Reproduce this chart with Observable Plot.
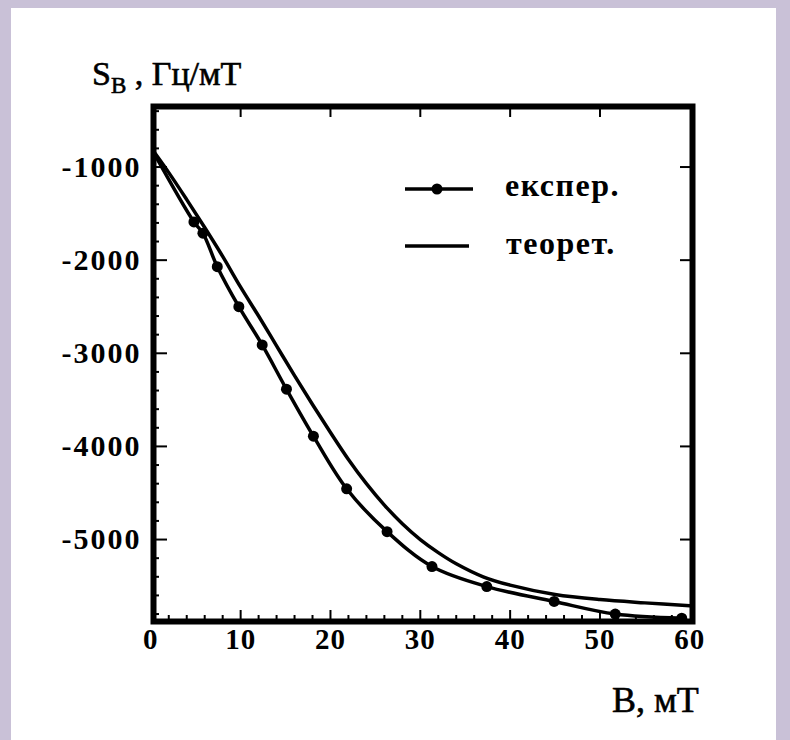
<!DOCTYPE html>
<html><head><meta charset="utf-8">
<script src="https://cdn.jsdelivr.net/npm/d3@7"></script>
<script src="https://cdn.jsdelivr.net/npm/@observablehq/plot@0.6"></script>
<style>
html,body{margin:0;padding:0;}
body{width:790px;height:740px;background:#c9c1d7;position:relative;overflow:hidden;}
#panel{position:absolute;left:11px;top:8px;width:765px;height:732px;background:#fff;}
#chart{position:absolute;left:0;top:0;}
svg text{font-family:"Liberation Serif","Times New Roman",serif;}
g[aria-label="y-axis tick label"] text{letter-spacing:2px;}
g[aria-label="x-axis tick label"] text{letter-spacing:1px;}
</style></head><body><div id="panel"></div><div id="chart"></div>
<script>
// experimental series (dots + line)
const expStartB = 0, expStartS = -790;
const expB = [4.8, 5.8, 7.4, 9.8, 12.4, 15.1, 18.1, 21.8, 26.3, 31.3, 37.4, 44.9, 51.7, 59.1];
const expS = [-1590, -1710, -2070, -2500, -2910, -3385, -3890, -4455, -4915, -5290, -5505, -5665, -5800, -5845];
// theoretical curve
const theoB = [0, 2, 4, 6, 8, 10, 12, 14, 16, 18, 20, 22, 24, 26, 28, 30, 32, 34, 37, 40, 45, 50, 55, 60];
const theoS = [-790, -1060, -1350, -1650, -1960, -2290, -2600, -2920, -3240, -3550, -3850, -4140, -4400, -4630, -4830, -5000, -5140, -5260, -5400, -5490, -5590, -5645, -5680, -5710];
// ticks
const xLabels = [0, 10, 20, 30, 40, 50, 60];
const xMajor = [10, 20, 30, 40, 50];
const xMinor = d3.range(2, 60, 2).filter(v => v % 10 !== 0);
const yLabels = [-1000, -2000, -3000, -4000, -5000];
const yMinor = d3.range(-5800, -300, 200).filter(v => v % 1000 !== 0);

const expData = expB.map((b, i) => ({B: b, S: expS[i]}));
const expLine = [{B: expStartB, S: expStartS}, ...expData];
const theo = theoB.map((b, i) => ({B: b, S: theoS[i]}));

const W = 790, H = 740, mL = 153, mR = 98, mT = 106, mB = 119;
const iw = W - mL - mR, ih = H - mT - mB;
const ff = '"Liberation Serif","Times New Roman",serif';

const plot = Plot.plot({
  width: W, height: H,
  marginLeft: mL, marginRight: mR, marginTop: mT, marginBottom: mB,
  style: {background: "transparent", color: "#000", overflow: "visible", fontFamily: ff},
  x: {domain: [0.3, 60.3]},
  y: {domain: [-5880, -350]},
  marks: [
    Plot.line(theo, {x: "B", y: "S", stroke: "#000", strokeWidth: 3.5, curve: "catmull-rom", clip: true}),
    Plot.line(expLine, {x: "B", y: "S", stroke: "#000", strokeWidth: 3.5, curve: "catmull-rom", clip: true}),
    Plot.dot(expData, {x: "B", y: "S", r: 5.5, fill: "#000", stroke: "none"}),
    Plot.tickY(yLabels, {y: d => d, stroke: "#000", strokeWidth: 2, insetRight: iw - 14}),
    Plot.tickY(yMinor, {y: d => d, stroke: "#000", strokeWidth: 2, insetRight: iw - 6}),
    Plot.tickY(yLabels, {y: d => d, stroke: "#000", strokeWidth: 2, insetLeft: iw - 12}),
    Plot.tickX(xMajor, {x: d => d, stroke: "#000", strokeWidth: 2, insetTop: ih - 11}),
    Plot.tickX(xMinor, {x: d => d, stroke: "#000", strokeWidth: 2, insetTop: ih - 6}),
    Plot.tickX(xMajor, {x: d => d, stroke: "#000", strokeWidth: 2, insetBottom: ih - 11}),
    Plot.axisY({ticks: yLabels, tickSize: 0, tickPadding: 12, tickFormat: d => String(d), fontSize: 30, fontWeight: "bold", label: null}),
    Plot.axisX({ticks: xLabels, tickSize: 0, tickPadding: 7, tickFormat: d => String(d), fontSize: 29, fontWeight: "bold", label: null}),
    Plot.frame({stroke: "#000", strokeWidth: 6})
  ]
});
document.getElementById("chart").appendChild(plot);

const svg = d3.select(plot);
// y-axis title
const yt = svg.append("text").attr("x", 92).attr("y", 85).attr("font-family", ff).attr("text-anchor", "start")
  .attr("fill", "#000").attr("stroke", "#000").attr("stroke-width", 0.6);
yt.append("tspan").attr("font-size", 34).text("S");
yt.append("tspan").attr("font-size", 23).attr("dy", 8).text("B");
yt.append("tspan").attr("font-size", 34).attr("dy", -8).text(" , Гц/мТ");
// x-axis title
svg.append("text").attr("x", 612).attr("y", 712).attr("font-family", ff).attr("font-size", 36).attr("text-anchor", "start")
  .attr("fill", "#000").attr("stroke", "#000").attr("stroke-width", 0.6).text("B, мТ");
// legend
const lg = svg.append("g").attr("text-anchor", "start");
lg.append("line").attr("x1", 405).attr("x2", 473).attr("y1", 189).attr("y2", 189).attr("stroke", "#000").attr("stroke-width", 3.5);
lg.append("circle").attr("cx", 437).attr("cy", 189).attr("r", 5.5).attr("fill", "#000");
lg.append("text").attr("x", 505).attr("y", 196).attr("font-family", ff).attr("font-size", 32)
  .attr("font-weight", "bold").attr("letter-spacing", "1.5px").attr("fill", "#000").text("експер.");
lg.append("line").attr("x1", 405).attr("x2", 469).attr("y1", 246).attr("y2", 246).attr("stroke", "#000").attr("stroke-width", 3.5);
lg.append("text").attr("x", 506).attr("y", 254).attr("font-family", ff).attr("font-size", 32)
  .attr("font-weight", "bold").attr("letter-spacing", "1.5px").attr("fill", "#000").text("теорет.");
</script></body></html>
